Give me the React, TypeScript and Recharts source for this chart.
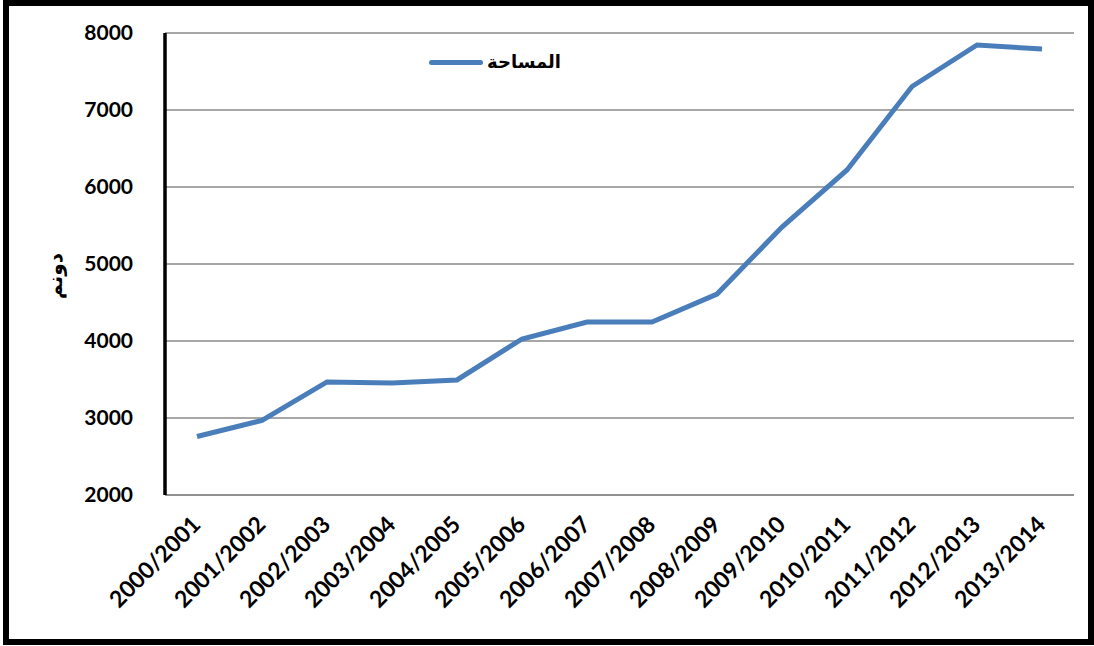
import React from 'react';
import { LineChart, Line, XAxis, YAxis, CartesianGrid } from 'recharts';

// Seasons (categories)
const seasons = [
  '2000/2001', '2001/2002', '2002/2003', '2003/2004', '2004/2005',
  '2005/2006', '2006/2007', '2007/2008', '2008/2009', '2009/2010',
  '2010/2011', '2011/2012', '2012/2013', '2013/2014',
];

// Cultivated area (dunum)
const area = [
  2760, 2970, 3468, 3455, 3494,
  4026, 4247, 4247, 4610, 5480,
  6221, 7305, 7844, 7792,
];

const yTicks = [2000, 3000, 4000, 5000, 6000, 7000, 8000];

const seriesName = 'المساحة';
const yTitle = 'دونم';

const data = seasons.map((s, i) => ({ season: s, area: area[i] }));

const LINE_COLOR = '#4A7EBB';
const FONT = 'Lato, "Open Sans", "DejaVu Sans", sans-serif';

const SeasonTick = (props: any) => {
  const { x, y, payload } = props;
  return (
    <g transform={`translate(${x + 5},${y + 23})`}>
      <text
        x={0}
        y={0}
        textAnchor="end"
        transform="rotate(-45)"
        fontFamily={FONT}
        fontWeight={700}
        fontSize={23}
        fill="#000"
      >
        {payload.value}
      </text>
    </g>
  );
};

export default function App() {
  return (
    <div
      style={{
        position: 'absolute',
        left: 0,
        top: 0,
        width: 1094,
        height: 646,
        background: '#fff',
      }}
    >
      <LineChart
        width={1094}
        height={646}
        data={data}
        margin={{ top: 33, right: 20, bottom: 31, left: 65 }}
      >
        <CartesianGrid
          horizontal
          vertical={false}
          stroke="#8a8a8a"
          strokeWidth={1.6}
        />
        <XAxis
          dataKey="season"
          height={120}
          interval={0}
          padding={{ left: 32, right: 32 }}
          axisLine={{ stroke: '#8a8a8a', strokeWidth: 1.6 }}
          tickLine={false}
          tick={<SeasonTick />}
        />
        <YAxis
          width={100}
          domain={[2000, 8000]}
          ticks={yTicks}
          interval={0}
          axisLine={{ stroke: '#000', strokeWidth: 3.5 }}
          tickLine={false}
          tickMargin={26}
          tick={{
            fontFamily: FONT,
            fontWeight: 700,
            fontSize: 21,
            fill: '#000',
          }}
          label={{
            content: (p: any) => {
              const vb = p.viewBox;
              const cx = vb.x - 10;
              const cy = vb.y + vb.height / 2 + 12;
              return (
                <text
                  x={cx}
                  y={cy}
                  textAnchor="middle"
                  dominantBaseline="central"
                  transform={`rotate(-90, ${cx}, ${cy})`}
                  fontFamily='"DejaVu Sans", sans-serif'
                  fontWeight={700}
                  fontSize={20}
                  fill="#000"
                >
                  {yTitle}
                </text>
              );
            },
          }}
        />
        <Line
          type="linear"
          dataKey="area"
          name={seriesName}
          stroke={LINE_COLOR}
          strokeWidth={5}
          dot={false}
          isAnimationActive={false}
        />
      </LineChart>
      {/* legend */}
      <div
        style={{
          position: 'absolute',
          left: 429,
          top: 47,
          display: 'flex',
          alignItems: 'center',
        }}
      >
        <div
          style={{
            width: 54,
            height: 5,
            borderRadius: 3,
            background: LINE_COLOR,
            marginRight: 4,
          }}
        />
        <span
          style={{
            fontFamily: '"DejaVu Sans", sans-serif',
            fontWeight: 700,
            fontSize: 18,
            color: '#000',
            lineHeight: '30px',
          }}
        >
          {seriesName}
        </span>
      </div>
      <div
        style={{
          position: 'absolute',
          left: 3,
          top: 0,
          width: 1091,
          height: 645,
          border: '6px solid #000',
          boxSizing: 'border-box',
          pointerEvents: 'none',
        }}
      />
    </div>
  );
}
